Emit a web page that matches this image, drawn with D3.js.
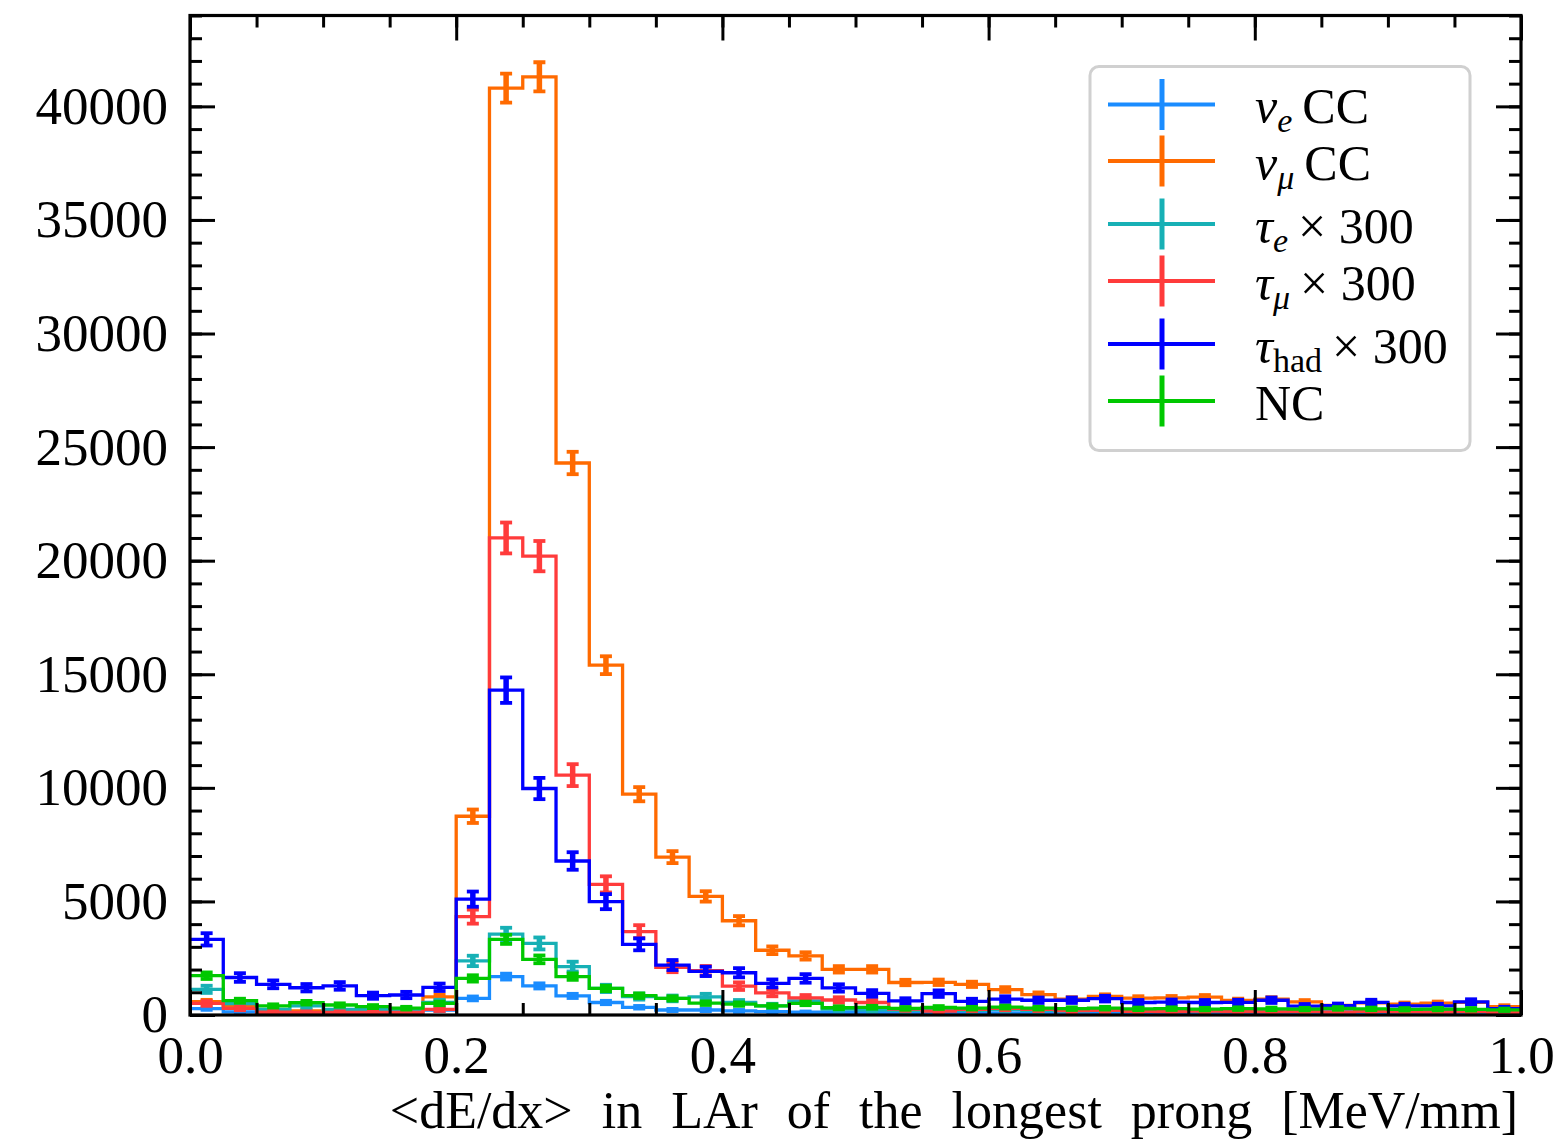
<!DOCTYPE html>
<html>
<head>
<meta charset="utf-8">
<script src="https://cdn.jsdelivr.net/npm/d3@7"></script>
<style>
  body { margin: 0; background: #ffffff; }
  text { font-family: "Liberation Serif", "Times New Roman", serif; }
</style>
</head>
<body>
<svg id="chart" width="1562" height="1148"></svg>
<script>
// Histogram bin edges of <dE/dx> [MeV/mm]
const binEdges = [0.000, 0.025, 0.050, 0.075, 0.100, 0.125, 0.150, 0.175, 0.200, 0.225,
                  0.250, 0.275, 0.300, 0.325, 0.350, 0.375, 0.400, 0.425, 0.450, 0.475,
                  0.500, 0.525, 0.550, 0.575, 0.600, 0.625, 0.650, 0.675, 0.700, 0.725,
                  0.750, 0.775, 0.800, 0.825, 0.850, 0.875, 0.900, 0.925, 0.950, 0.975, 1.000];

// Weighted counts per bin
const nueCC = [280, 140, 120, 110, 100, 100, 100, 220, 730, 1690,
               1280, 840, 550, 340, 220, 220, 180, 150, 120, 120,
               110, 100, 100, 90, 90, 90, 80, 80, 80, 80,
               70, 70, 70, 70, 60, 60, 60, 60, 60, 60];
const numuCC = [590, 420, 200, 180, 170, 160, 190, 800, 8750, 40800,
                41300, 24300, 15400, 9720, 6950, 5220, 4150, 2850, 2600, 2010,
                2010, 1430, 1440, 1350, 1120, 900, 700, 820, 740, 750,
                790, 640, 700, 580, 420, 530, 480, 520, 560, 370];
const tauE = [1130, 500, 250, 400, 250, 250, 250, 560, 2380, 3560,
              3150, 2130, 1170, 810, 730, 800, 550, 400, 620, 260,
              230, 200, 220, 200, 250, 200, 180, 200, 220, 200,
              190, 220, 180, 200, 170, 190, 200, 180, 220, 150];
const tauMu = [510, 290, 120, 110, 110, 110, 110, 250, 4330, 21000,
               20200, 10560, 5750, 3670, 2100, 1950, 1270, 970, 750, 660,
               550, 260, 170, 250, 290, 250, 190, 200, 160, 150,
               170, 150, 140, 150, 130, 160, 140, 130, 150, 120];
const tauHad = [3330, 1650, 1350, 1200, 1280, 850, 880, 1220, 5100, 14300,
                9970, 6780, 4990, 3110, 2200, 1920, 1860, 1390, 1610, 1190,
                950, 620, 940, 600, 700, 650, 650, 720, 550, 570,
                550, 560, 650, 390, 410, 560, 400, 400, 580, 280];
const nc = [1730, 630, 400, 540, 440, 370, 300, 510, 1610, 3330,
            2450, 1690, 1170, 850, 730, 520, 480, 400, 510, 320,
            340, 290, 330, 300, 350, 300, 280, 300, 270, 280,
            260, 280, 270, 260, 290, 270, 250, 260, 250, 230];

// Series in drawing order, with their legend label pieces
const seriesValues  = [nueCC, numuCC, tauE, tauMu, tauHad, nc];
const seriesColors  = ["#1a8cff", "#ff6a00", "#17b0b5", "#ff3b3b", "#0000ff", "#00c800"];
const seriesSymbols = ["ν", "ν", "τ", "τ", "τ", ""];
const seriesSubs    = ["e", "μ", "e", "μ", "had", ""];
const seriesSuffix  = ["CC", "CC", "× 300", "× 300", "× 300", "NC"];
// sum of squared weights per unit count (statistical error = sqrt(w * N))
const sumw2PerCount = [10, 10, 22, 22, 22, 12];

// Axis ticks
const xMajorTicks = [0.0, 0.2, 0.4, 0.6, 0.8, 1.0];
const yMajorTicks = [0, 5000, 10000, 15000, 20000, 25000, 30000, 35000, 40000];
const xDomain = [0, 1];
const yDomain = [0, 44000];

const svg = d3.select("#chart");
const plotLeft = 190, plotRight = 1521, plotTop = 15.5, plotBottom = 1015;

const x = d3.scaleLinear().domain(xDomain).range([plotLeft, plotRight]);
const y = d3.scaleLinear().domain(yDomain).range([plotBottom, plotTop]);

svg.append("defs").append("clipPath").attr("id", "plotClip")
  .append("rect").attr("x", plotLeft).attr("y", plotTop)
  .attr("width", plotRight - plotLeft).attr("height", plotBottom - plotTop);

const plot = svg.append("g").attr("clip-path", "url(#plotClip)");

const nBins = binEdges.length - 1;
seriesValues.forEach((vals, s) => {
  const color = seriesColors[s];
  // step outline
  let d = "";
  for (let i = 0; i < nBins; i++) {
    const x0 = x(binEdges[i]), x1 = x(binEdges[i + 1]), yy = y(vals[i]);
    d += (i === 0 ? "M" : "L") + x0 + "," + yy + "L" + x1 + "," + yy;
  }
  plot.append("path").attr("d", d)
    .attr("fill", "none").attr("stroke", color)
    .attr("stroke-width", 3.3).attr("stroke-linejoin", "miter");

  // error bars with caps at bin centres
  const eg = plot.append("g");
  for (let i = 0; i < nBins; i++) {
    const xc = x((binEdges[i] + binEdges[i + 1]) / 2);
    const err = Math.sqrt(sumw2PerCount[s] * vals[i]);
    const yLo = y(vals[i] - err), yHi = y(vals[i] + err);
    eg.append("line").attr("x1", xc).attr("x2", xc).attr("y1", yLo).attr("y2", yHi)
      .attr("stroke", color).attr("stroke-width", 5.5);
    [yLo, yHi].forEach(yc => {
      eg.append("line").attr("x1", xc - 6).attr("x2", xc + 6).attr("y1", yc).attr("y2", yc)
        .attr("stroke", color).attr("stroke-width", 3.8);
    });
  }
});

// Axes: inward ticks on all four sides
const fmtX = d3.format(".1f");
const xMinor = d3.range(0, 1.0001, 0.05);
const yMinor = d3.range(0, 44001, 1000);

function styleAxis(g) {
  g.select(".domain").remove();
  g.selectAll(".tick line").attr("stroke", "#000").attr("stroke-width", 3);
  g.selectAll(".tick text").attr("fill", "#000")
    .style("font-family", '"Liberation Serif", "Times New Roman", serif').style("font-size", "53px");
}

svg.append("g").attr("transform", `translate(0,${plotBottom})`)
  .call(d3.axisBottom(x).tickValues(xMinor).tickSize(-12).tickFormat(""))
  .call(styleAxis);
svg.append("g").attr("transform", `translate(0,${plotBottom})`)
  .call(d3.axisBottom(x).tickValues(xMajorTicks).tickSize(-25).tickPadding(20).tickFormat(fmtX))
  .call(styleAxis);
svg.append("g").attr("transform", `translate(0,${plotTop})`)
  .call(d3.axisTop(x).tickValues(xMinor).tickSize(-12).tickFormat(""))
  .call(styleAxis);
svg.append("g").attr("transform", `translate(0,${plotTop})`)
  .call(d3.axisTop(x).tickValues(xMajorTicks).tickSize(-25).tickFormat(""))
  .call(styleAxis);

svg.append("g").attr("transform", `translate(${plotLeft},0)`)
  .call(d3.axisLeft(y).tickValues(yMinor).tickSize(-12).tickFormat(""))
  .call(styleAxis);
svg.append("g").attr("transform", `translate(${plotLeft},0)`)
  .call(d3.axisLeft(y).tickValues(yMajorTicks).tickSize(-25).tickPadding(22).tickFormat(d3.format("d")))
  .call(styleAxis);
svg.append("g").attr("transform", `translate(${plotRight},0)`)
  .call(d3.axisRight(y).tickValues(yMinor).tickSize(-12).tickFormat(""))
  .call(styleAxis);
svg.append("g").attr("transform", `translate(${plotRight},0)`)
  .call(d3.axisRight(y).tickValues(yMajorTicks).tickSize(-25).tickFormat(""))
  .call(styleAxis);

// Frame
svg.append("rect").attr("x", plotLeft).attr("y", plotTop)
  .attr("width", plotRight - plotLeft).attr("height", plotBottom - plotTop)
  .attr("fill", "none").attr("stroke", "#000").attr("stroke-width", 3.2);

// X-axis title, right aligned with the axis end
svg.append("text").attr("x", plotRight - 3).attr("y", 1128)
  .attr("text-anchor", "end").style("font-size", "52px").style("word-spacing", "16px")
  .text("<dE/dx> in LAr of the longest prong [MeV/mm]");

// Legend
const legend = svg.append("g");
legend.append("rect").attr("x", 1090).attr("y", 66.5).attr("width", 380).attr("height", 384)
  .attr("rx", 9).attr("fill", "#ffffff").attr("fill-opacity", 0.85)
  .attr("stroke", "#d0d0d0").attr("stroke-width", 3);

const rowCentres = [104.5, 161, 224, 281, 344, 401];
seriesColors.forEach((color, s) => {
  const cy = rowCentres[s];
  legend.append("line").attr("x1", 1108).attr("x2", 1215).attr("y1", cy).attr("y2", cy)
    .attr("stroke", color).attr("stroke-width", 4);
  legend.append("line").attr("x1", 1162).attr("x2", 1162).attr("y1", cy - 25.5).attr("y2", cy + 25.5)
    .attr("stroke", color).attr("stroke-width", 5);

  const t = legend.append("text").attr("x", 1255).attr("y", cy + 18.5).style("font-size", "50px");
  if (seriesSymbols[s]) {
    t.append("tspan").style("font-style", "italic").text(seriesSymbols[s]);
    const sub = seriesSubs[s];
    t.append("tspan").attr("dy", 9).style("font-size", "34px")
      .style("font-style", sub.length > 1 ? "normal" : "italic").text(sub);
    t.append("tspan").attr("dy", -9).text("\u2009" + seriesSuffix[s]);
  } else {
    t.text(seriesSuffix[s]);
  }
});
</script>
</body>
</html>
